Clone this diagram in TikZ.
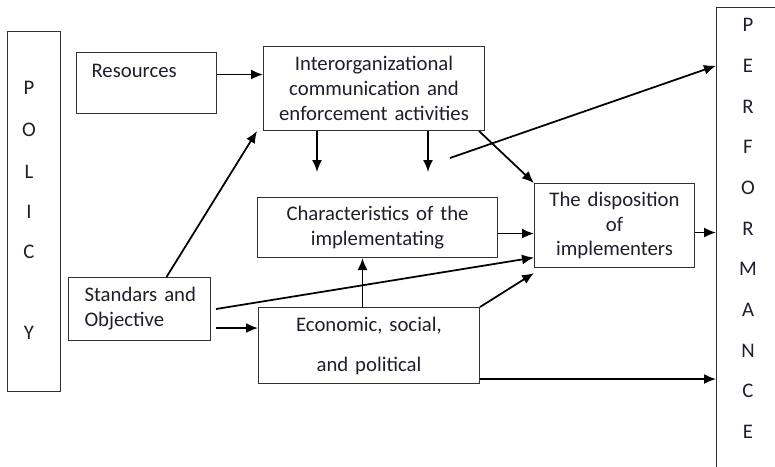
\documentclass[tikz,border=0pt]{standalone}
\usepackage{fontspec}
\setmainfont{Carlito}
\usetikzlibrary{positioning}
\usetikzlibrary{arrows.meta}

\definecolor{ink}{HTML}{1E1E2C}
\definecolor{boxline}{HTML}{303030}

\begin{document}
\begin{tikzpicture}[x=0.02cm,y=-0.02cm,->,>={Latex[length=2.4mm,width=2mm]},
                line width=1pt,
                box/.style={rectangle,draw=boxline,line width=0.6pt,anchor=north west,
                  inner sep=0pt,align=center,text=ink,font=\fontsize{11.8}{14.2}\selectfont},
                letter/.style={text=ink,font=\fontsize{11.8}{14.2}\selectfont}]

  \clip (0,0) rectangle (775,467);

  % side bars
  \node[box, minimum width=1.06cm, minimum height=7.2cm] (policy) at (7,31) {};
  \node[box, minimum width=1.32cm, minimum height=9.6cm] (perf) at (716,7) {};
  \foreach \c/\y [count=\i] in {P/88,O/130,L/172,I/212,C/252,Y/333}
    \node[letter] (policy-\i) at (29,\y) {\c};
  \foreach \c [count=\i] in {P,E,R,F,O,R,M,A,N,C,E}
    \node[letter] (perf-\i) at (748,{25+40.7*(\i-1)}) {\c};

  % inner boxes
  \node[box, minimum width=2.8cm, minimum height=1.22cm, text width=2.2cm,
        inner xsep=.3cm, align=left] (res) at (76,52) {Resources\\~};
  \node[box, minimum width=4.42cm, minimum height=1.68cm, text width=4.42cm] (inter) at (263,46)
    {Interorganizational\\ communication and\\ enforcement activities};
  \node[box, minimum width=4.8cm, minimum height=1.2cm, text width=4.8cm] (chr) at (257,197)
    {Characteristics of the\\ implementating};
  \node[box, minimum width=3.2cm, minimum height=1.68cm, text width=3.2cm] (disp) at (534,183)
    {The disposition\\ of\\ implementers};
  \node[box, minimum width=2.84cm, minimum height=1.26cm, text width=2.2cm,
        inner xsep=.32cm, align=left] (std) at (68,277) {Standars~and\\ Objective};
  \node[box, minimum width=4.42cm, minimum height=1.52cm, text width=4.42cm] (eco) at (258,307)
    {Economic, social,\\[.3cm] and political};

  % arrow ends
  \coordinate (r1) at ([yshift=.17cm]res.east);
  \coordinate (d1) at (317,172);
  \coordinate (d2) at (428,172);
  \coordinate (f) at (450,158);
  \coordinate (s2) at ([xshift=.1cm,yshift=-.38cm]std.east);
  \coordinate (e1) at ([xshift=-.3cm]chr.south);
  \coordinate (e2) at ([yshift=.1cm]eco.south east);
  \coordinate (c1) at ([yshift=-.12cm]chr.east);
  \coordinate (p1) at ([yshift=-.14cm]disp.east);

  \path
    (r1) edge (r1 -| inter.west)
    (d1 |- inter.south) edge (d1)
    (d2 |- inter.south) edge (d2)
    (f) edge (perf-2 -| perf.west)
    ([xshift=-.12cm]inter.south east) edge (disp.north west)
    ([xshift=.54cm]std.north) edge ([xshift=-.12cm]inter.south west)
    ([xshift=.1cm]std.east) edge ([yshift=-.64cm]disp.west)
    (s2) edge (s2 -| eco.west)
    (e1 |- eco.north) edge (e1)
    (eco.north east) edge ([yshift=-.1cm]disp.south west)
    (e2) edge (e2 -| perf.west)
    (c1) edge (c1 -| disp.west)
    (p1) edge (p1 -| perf.west);

\end{tikzpicture}
\end{document}
